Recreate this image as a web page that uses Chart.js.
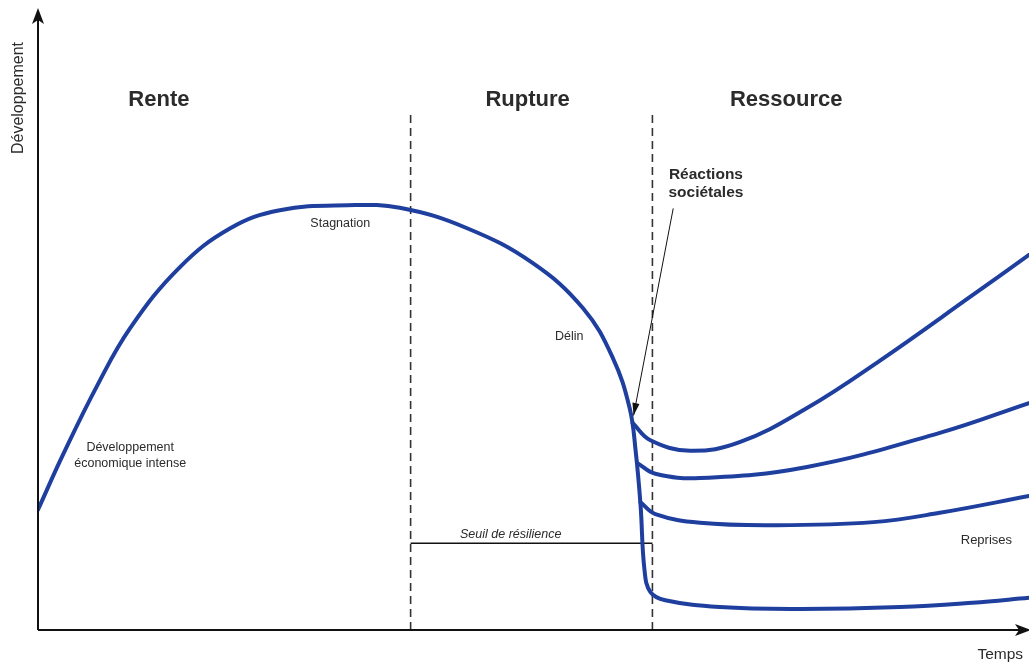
<!DOCTYPE html>
<html>
<head>
<meta charset="utf-8">
<script src="https://cdn.jsdelivr.net/npm/chart.js@4"></script>
<style>
  html, body { margin: 0; padding: 0; background: #fff; }
  #wrap { width: 1029px; height: 663px; }
</style>
</head>
<body>
<div id="wrap"><canvas id="chart"></canvas></div>
<script>
// time (x) and development (y), both on a 0-100 scale
const mainTime = [0, 2.5, 6.0, 9.3, 14.3, 19.4, 24.4, 31.2, 36.5, 43.3, 49.9, 55.0, 58.0, 59.7, 60.3, 60.8, 61.2, 61.8, 63.3, 68.8, 76.9, 87.0, 94.3, 100];
const mainDev  = [19.4, 28.2, 39.5, 48.7, 58.5, 64.8, 67.7, 68.5, 68.1, 64.8, 59.2, 51.9, 43.9, 35.8, 29.0, 20.2, 9.7, 6.1, 4.8, 3.7, 3.4, 3.7, 4.4, 5.2];

const reprise1Time = [60.0, 61.8, 65.8, 70.8, 77.6, 85.0, 94.3, 100];
const reprise1Dev  = [33.4, 30.6, 28.9, 30.3, 35.8, 43.5, 54.0, 60.5];

const reprise2Time = [60.5, 62.3, 66.8, 77.6, 91.0, 100];
const reprise2Dev  = [26.9, 25.2, 24.5, 26.3, 31.8, 36.6];

const reprise3Time = [60.8, 62.3, 66.8, 74.2, 84.3, 91.0, 100];
const reprise3Dev  = [20.6, 18.7, 17.3, 16.9, 17.4, 18.9, 21.6];

// phase boundaries (Rente | Rupture | Ressource)
const phaseBounds = [37.6, 62.0];
const phaseTop = 83.5;
const seuil = 14.0;

const phaseNames = ['Rente', 'Rupture', 'Ressource'];
const phaseNameX = [12.2, 49.4, 75.5];
const phaseNameY = 85.5;

const pts = (xs, ys) => xs.map((x, i) => ({ x: x, y: ys[i] }));

const BLUE = '#1f3f9f';
const INK = '#2b2b2b';

const curve = (data) => ({
  data: data,
  borderColor: BLUE,
  borderWidth: 4,
  pointRadius: 0,
  showLine: true,
  tension: 0.4,
  borderCapStyle: 'round',
  borderJoinStyle: 'round',
  order: 1
});

const datasets = [
  curve(pts(mainTime, mainDev)),
  curve(pts(reprise1Time, reprise1Dev)),
  curve(pts(reprise2Time, reprise2Dev)),
  curve(pts(reprise3Time, reprise3Dev))
];
phaseBounds.forEach(b => {
  datasets.push({
    data: [{ x: b, y: 0 }, { x: b, y: phaseTop }],
    borderColor: '#333',
    borderWidth: 1.6,
    borderDash: [8, 5],
    pointRadius: 0,
    showLine: true,
    order: 2
  });
});
datasets.push({
  data: [{ x: phaseBounds[0], y: seuil }, { x: phaseBounds[1], y: seuil }],
  borderColor: '#111',
  borderWidth: 1.5,
  pointRadius: 0,
  showLine: true,
  order: 2
});

const font = (size, weight, style) =>
  (style || '') + ' ' + (weight || 'normal') + ' ' + size + 'px "Liberation Sans", Arial, sans-serif';

const decorPlugin = {
  id: 'decor',
  afterDatasetsDraw(chart) {
    const { ctx, chartArea: a, scales } = chart;
    const px = v => scales.x.getPixelForValue(v);
    const py = v => scales.y.getPixelForValue(v);
    ctx.save();

    // axes with arrowheads
    ctx.strokeStyle = '#111';
    ctx.fillStyle = '#111';
    ctx.lineWidth = 2;
    ctx.beginPath();
    ctx.moveTo(a.left, a.bottom);
    ctx.lineTo(a.left, a.top + 8);
    ctx.moveTo(a.left, a.bottom);
    ctx.lineTo(a.right - 6, a.bottom);
    ctx.stroke();
    ctx.beginPath();
    ctx.moveTo(a.left, a.top - 2);
    ctx.lineTo(a.left - 6, a.top + 14);
    ctx.lineTo(a.left, a.top + 10);
    ctx.lineTo(a.left + 6, a.top + 14);
    ctx.closePath();
    ctx.fill();
    ctx.beginPath();
    ctx.moveTo(a.right + 2, a.bottom);
    ctx.lineTo(a.right - 14, a.bottom - 6);
    ctx.lineTo(a.right - 10, a.bottom);
    ctx.lineTo(a.right - 14, a.bottom + 6);
    ctx.closePath();
    ctx.fill();

    // annotation arrow "Réactions sociétales"
    const x0 = px(64.1), y0 = py(68.0);
    const x1 = px(60.1), y1 = py(34.6);
    ctx.lineWidth = 1;
    ctx.beginPath();
    ctx.moveTo(x0, y0);
    ctx.lineTo(x1, y1);
    ctx.stroke();
    const ang = Math.atan2(y1 - y0, x1 - x0);
    ctx.beginPath();
    ctx.moveTo(x1, y1);
    ctx.lineTo(x1 - 13 * Math.cos(ang - 0.28), y1 - 13 * Math.sin(ang - 0.28));
    ctx.lineTo(x1 - 13 * Math.cos(ang + 0.28), y1 - 13 * Math.sin(ang + 0.28));
    ctx.closePath();
    ctx.fill();

    // texts
    ctx.fillStyle = INK;
    ctx.textAlign = 'center';
    ctx.textBaseline = 'middle';
    ctx.font = font(22, 'bold');
    phaseNames.forEach((n, i) => ctx.fillText(n, px(phaseNameX[i]), py(phaseNameY)));

    ctx.font = font(15.5, 'bold');
    ctx.fillText('Réactions', px(67.4), py(73.5));
    ctx.fillText('sociétales', px(67.4), py(70.6));

    ctx.font = font(12.5);
    ctx.fillText('Stagnation', px(30.5), py(65.6));
    ctx.fillText('Délin', px(53.6), py(47.3));
    ctx.fillText('Développement', px(9.3), py(29.4));
    ctx.fillText('économique intense', px(9.3), py(26.8));
    ctx.font = font(13);
    ctx.fillText('Reprises', px(95.7), py(14.4));
    ctx.font = font(12.5, 'normal', 'italic');
    ctx.fillText('Seuil de résilience', px(47.7), py(15.4));

    ctx.font = font(15.5);
    ctx.fillText('Temps', px(97.1), py(-4.0));

    ctx.font = font(16);
    ctx.translate(px(-2.0), py(85.8));
    ctx.rotate(-Math.PI / 2);
    ctx.fillText('Développement', 0, 0);

    ctx.restore();
  }
};

new Chart(document.getElementById('chart').getContext('2d'), {
  type: 'scatter',
  data: { datasets },
  options: {
    responsive: true,
    maintainAspectRatio: false,
    animation: false,
    layout: { padding: { left: 38, right: 0, top: 10, bottom: 33 } },
    plugins: { legend: { display: false }, tooltip: { enabled: false } },
    scales: {
      x: { type: 'linear', min: 0, max: 100, display: false },
      y: { type: 'linear', min: 0, max: 100, display: false }
    }
  },
  plugins: [decorPlugin]
});
</script>
</body>
</html>
